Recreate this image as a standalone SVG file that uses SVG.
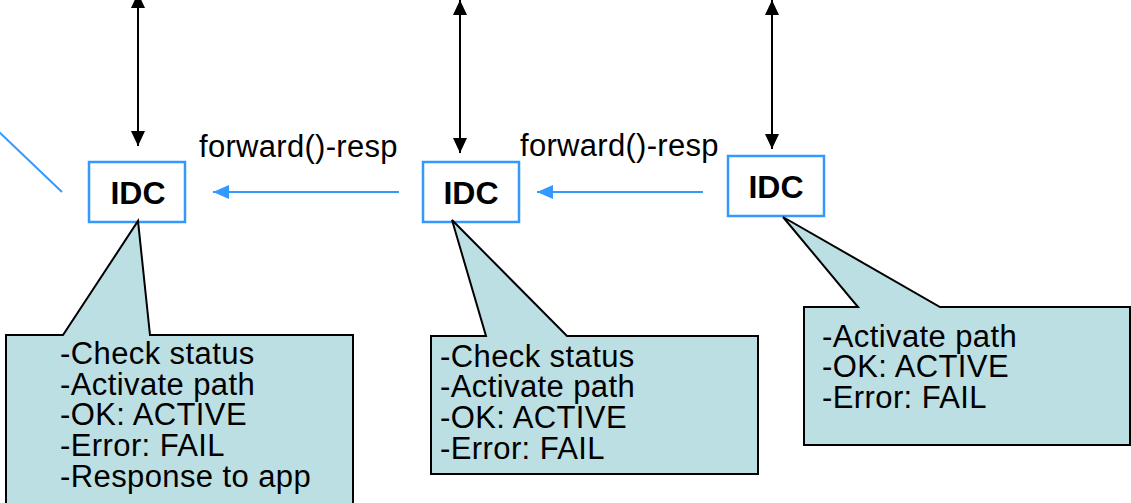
<svg xmlns="http://www.w3.org/2000/svg" width="1131" height="503" viewBox="0 0 1131 503">
  <defs>
    <style>
      .idc rect { fill: #ffffff; stroke: #3399ff; stroke-width: 2.5; }
      .idc text { font-family: "Liberation Sans", Arial, sans-serif; font-weight: bold; font-size: 32px; fill: #000; text-anchor: middle; }
      .callout polygon { fill: #bbdfe3; stroke: #000; stroke-width: 2; stroke-linejoin: miter; }
      .callout text { font-family: "Liberation Sans", Arial, sans-serif; font-size: 31px; letter-spacing: 0.4px; fill: #000; }
      .lbl { font-family: "Liberation Sans", Arial, sans-serif; font-size: 31px; letter-spacing: 0.3px; fill: #000; }
      .blk { stroke: #000; stroke-width: 2; fill: none; }
      .blu { stroke: #3399ff; stroke-width: 2; fill: none; }
    </style>
    <marker id="ab" viewBox="0 0 15 14" refX="15" refY="7" markerWidth="15" markerHeight="14" markerUnits="userSpaceOnUse" orient="auto-start-reverse">
      <path d="M0,0 L15,7 L0,14 Z" fill="#000"/>
    </marker>
    <marker id="au" viewBox="0 0 16 14" refX="16" refY="7" markerWidth="16" markerHeight="14" markerUnits="userSpaceOnUse" orient="auto">
      <path d="M0,0 L16,7 L0,14 Z" fill="#3399ff"/>
    </marker>
  </defs>

  <g id="connectors">
    <line class="blk" x1="138" y1="-7" x2="138" y2="146" marker-start="url(#ab)" marker-end="url(#ab)"/>
    <line class="blk" x1="460" y1="0" x2="460" y2="153" marker-start="url(#ab)" marker-end="url(#ab)"/>
    <line class="blk" x1="772" y1="0" x2="772" y2="149" marker-start="url(#ab)" marker-end="url(#ab)"/>
    <line class="blu" x1="399" y1="192" x2="213" y2="192" marker-end="url(#au)"/>
    <line class="blu" x1="703" y1="192" x2="537" y2="192" marker-end="url(#au)"/>
    <line class="blu" x1="-2" y1="131" x2="62" y2="192"/>
    <text class="lbl" x="199" y="157">forward()-resp</text>
    <text class="lbl" x="520" y="156">forward()-resp</text>
  </g>

  <g id="idc1" class="idc">
    <rect x="89" y="162" width="96" height="60"/>
    <text x="138" y="204">IDC</text>
  </g>
  <g id="idc2" class="idc">
    <rect x="423" y="162" width="96" height="60"/>
    <text x="471" y="204">IDC</text>
  </g>
  <g id="idc3" class="idc">
    <rect x="728" y="156" width="96" height="60"/>
    <text x="776" y="198">IDC</text>
  </g>

  <g id="callout1" class="callout">
    <polygon points="6,335 63,335 138,221 150,335 353,335 353,512 6,512"/>
    <text x="60" y="364">-Check status</text>
    <text x="60" y="395">-Activate path</text>
    <text x="60" y="425">-OK: ACTIVE</text>
    <text x="60" y="456">-Error: FAIL</text>
    <text x="60" y="487">-Response to app</text>
  </g>
  <g id="callout2" class="callout">
    <polygon points="431,336 486,336 452,220 567,336 758,336 758,474 431,474"/>
    <text x="440" y="367">-Check status</text>
    <text x="440" y="397">-Activate path</text>
    <text x="440" y="428">-OK: ACTIVE</text>
    <text x="440" y="459">-Error: FAIL</text>
  </g>
  <g id="callout3" class="callout">
    <polygon points="804,307 858,307 783,217 940,307 1130,307 1130,445 804,445"/>
    <text x="822" y="347">-Activate path</text>
    <text x="822" y="377">-OK: ACTIVE</text>
    <text x="822" y="408">-Error: FAIL</text>
  </g>
</svg>
